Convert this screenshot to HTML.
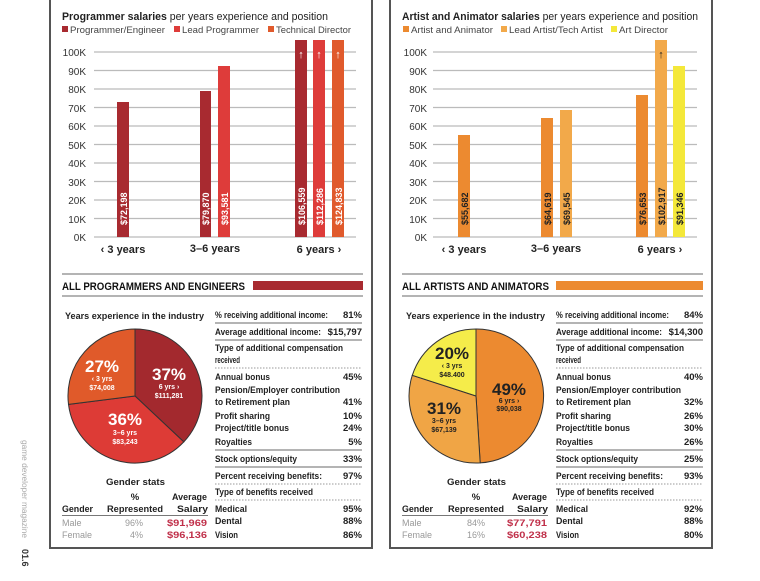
<!DOCTYPE html>
<html><head><meta charset="utf-8"><style>
html,body{margin:0;padding:0;background:#fff;}
svg{display:block;font-family:"Liberation Sans Narrow","Liberation Sans",sans-serif;}
.t{font-size:9.5px;fill:#222;font-weight:bold;}
.ax{font-size:10px;fill:#333;}
.lg{font-size:9.5px;fill:#444;}
.g{stroke:#bbb;stroke-width:1.3;}
.bl{font-size:9px;font-weight:bold;fill:#fff;}
.bk{font-size:9px;font-weight:bold;fill:#222;}
.sep{stroke:#888;stroke-width:1.3;}
.dot{stroke:#999;stroke-width:1;stroke-dasharray:1.5 1.5;}
</style></head><body>
<svg width="760" height="581" viewBox="0 0 760 581" xmlns="http://www.w3.org/2000/svg">
<path d="M50,0 V548 H372 V0" fill="none" stroke="#555" stroke-width="2"/>
<path d="M390,0 V548 H712 V0" fill="none" stroke="#555" stroke-width="2"/>
<text transform="translate(22,440) rotate(90)" font-size="8" fill="#aaa" textLength="98" lengthAdjust="spacingAndGlyphs">game developer magazine</text>
<text transform="translate(22,549) rotate(90)" font-size="9" font-weight="bold" fill="#333">01.6</text>

<!-- LEFT CHART -->
<text x="62" y="20" font-size="11" fill="#222" textLength="266" lengthAdjust="spacingAndGlyphs"><tspan font-weight="bold">Programmer salaries</tspan> per years experience and position</text>
<rect x="62" y="26" width="6" height="6" fill="#a82a30"/><text x="70" y="33" class="lg" textLength="95" lengthAdjust="spacingAndGlyphs">Programmer/Engineer</text>
<rect x="174" y="26" width="6" height="6" fill="#de3c3a"/><text x="182" y="33" class="lg" textLength="77" lengthAdjust="spacingAndGlyphs">Lead Programmer</text>
<rect x="268" y="26" width="6" height="6" fill="#e05a2c"/><text x="276" y="33" class="lg" textLength="75" lengthAdjust="spacingAndGlyphs">Technical Director</text>
<g class="ax" text-anchor="end">
<text x="86" y="56">100K</text><text x="86" y="75">90K</text><text x="86" y="93">80K</text><text x="86" y="112">70K</text><text x="86" y="130">60K</text><text x="86" y="149">50K</text><text x="86" y="167">40K</text><text x="86" y="186">30K</text><text x="86" y="204">20K</text><text x="86" y="223">10K</text><text x="86" y="241">0K</text>
</g>
<g class="g">
<line x1="94" x2="356" y1="52" y2="52"/><line x1="94" x2="356" y1="70.5" y2="70.5"/><line x1="94" x2="356" y1="89" y2="89"/><line x1="94" x2="356" y1="107.5" y2="107.5"/><line x1="94" x2="356" y1="126" y2="126"/><line x1="94" x2="356" y1="144.5" y2="144.5"/><line x1="94" x2="356" y1="163" y2="163"/><line x1="94" x2="356" y1="181.5" y2="181.5"/><line x1="94" x2="356" y1="200" y2="200"/><line x1="94" x2="356" y1="218.5" y2="218.5"/><line x1="94" x2="356" y1="237" y2="237"/>
</g>
<rect x="117" y="102" width="12" height="135" fill="#a82a30"/>
<rect x="200" y="91" width="11" height="146" fill="#a82a30"/>
<rect x="218" y="66" width="12" height="171" fill="#de3c3a"/>
<rect x="295" y="40" width="12" height="197" fill="#a82a30"/>
<rect x="313" y="40" width="12" height="197" fill="#de3c3a"/>
<rect x="332" y="40" width="12" height="197" fill="#e05a2c"/>
<g fill="#fff" font-size="11" font-weight="bold" text-anchor="middle"><text x="301" y="58">↑</text><text x="319" y="58">↑</text><text x="338" y="58">↑</text></g>
<g class="bl">
<text transform="translate(127,225) rotate(-90)">$72,198</text>
<text transform="translate(209,225) rotate(-90)">$79,870</text>
<text transform="translate(228,225) rotate(-90)">$93,581</text>
<text transform="translate(305,225) rotate(-90)">$106,559</text>
<text transform="translate(323,225) rotate(-90)">$112,286</text>
<text transform="translate(342,225) rotate(-90)">$124,833</text>
</g>
<g font-size="11" font-weight="bold" fill="#222" text-anchor="middle"><text x="123" y="253">‹ 3 years</text><text x="215" y="252">3–6 years</text><text x="319" y="253">6 years ›</text></g>
<line class="sep" x1="62" x2="363" y1="274" y2="274"/>
<line class="sep" x1="62" x2="363" y1="296" y2="296"/>
<text x="62" y="290" font-size="11" font-weight="bold" fill="#111" textLength="183" lengthAdjust="spacingAndGlyphs">ALL PROGRAMMERS AND ENGINEERS</text>
<rect x="253" y="281" width="110" height="9" fill="#a82a30"/>

<text x="65" y="319" class="t" textLength="139" lengthAdjust="spacingAndGlyphs">Years experience in the industry</text>
<path d="M135,396 L135,329 A67,67 0 0 1 183.8,441.9 Z" fill="#a3292e" stroke="#333" stroke-width="1"/>
<path d="M135,396 L183.8,441.9 A67,67 0 0 1 68.5,404.4 Z" fill="#dd3b36" stroke="#333" stroke-width="1"/>
<path d="M135,396 L68.5,404.4 A67,67 0 0 1 135,329 Z" fill="#e05a2a" stroke="#333" stroke-width="1"/>
<g fill="#fff" font-weight="bold" text-anchor="middle">
<text x="102" y="372" font-size="17">27%</text><text x="102" y="381" font-size="7">‹ 3 yrs</text><text x="102" y="390" font-size="7">$74,008</text>
<text x="169" y="380" font-size="17">37%</text><text x="169" y="389" font-size="7">6 yrs ›</text><text x="169" y="398" font-size="7">$111,281</text>
<text x="125" y="425" font-size="17">36%</text><text x="125" y="435" font-size="7">3–6 yrs</text><text x="125" y="444" font-size="7">$83,243</text>
</g>
<text x="106" y="485" class="t" textLength="59" lengthAdjust="spacingAndGlyphs">Gender stats</text>
<g class="t"><text x="135" y="500" text-anchor="middle">%</text><text x="172" y="500" textLength="35" lengthAdjust="spacingAndGlyphs">Average</text>
<text x="62" y="512" textLength="31" lengthAdjust="spacingAndGlyphs">Gender</text><text x="107" y="512" textLength="56" lengthAdjust="spacingAndGlyphs">Represented</text><text x="177" y="512" textLength="31" lengthAdjust="spacingAndGlyphs">Salary</text></g>
<line x1="62" x2="208" y1="515.5" y2="515.5" stroke="#777" stroke-width="1"/>
<g font-size="9" fill="#999"><text x="62" y="526">Male</text><text x="62" y="538">Female</text><text x="143" y="526" text-anchor="end">96%</text><text x="143" y="538" text-anchor="end">4%</text></g>
<g font-size="9.5" font-weight="bold" fill="#c0304a"><text x="167" y="526" textLength="40" lengthAdjust="spacingAndGlyphs">$91,969</text><text x="167" y="538" textLength="40" lengthAdjust="spacingAndGlyphs">$96,136</text></g>

<g class="t">
<text x="215" y="318" textLength="113" lengthAdjust="spacingAndGlyphs">% receiving additional income:</text><text x="362" y="318" text-anchor="end">81%</text>
<text x="215" y="335" textLength="106" lengthAdjust="spacingAndGlyphs">Average additional income:</text><text x="362" y="335" text-anchor="end">$15,797</text>
<text x="215" y="351" textLength="128" lengthAdjust="spacingAndGlyphs">Type of additional compensation</text><text x="215" y="363" textLength="25" lengthAdjust="spacingAndGlyphs">received</text>
<text x="215" y="380" textLength="55" lengthAdjust="spacingAndGlyphs">Annual bonus</text><text x="362" y="380" text-anchor="end">45%</text>
<text x="215" y="393" textLength="125" lengthAdjust="spacingAndGlyphs">Pension/Employer contribution</text>
<text x="215" y="405" textLength="75" lengthAdjust="spacingAndGlyphs">to Retirement plan</text><text x="362" y="405" text-anchor="end">41%</text>
<text x="215" y="419" textLength="55" lengthAdjust="spacingAndGlyphs">Profit sharing</text><text x="362" y="419" text-anchor="end">10%</text>
<text x="215" y="431" textLength="74" lengthAdjust="spacingAndGlyphs">Project/title bonus</text><text x="362" y="431" text-anchor="end">24%</text>
<text x="215" y="445" textLength="37" lengthAdjust="spacingAndGlyphs">Royalties</text><text x="362" y="445" text-anchor="end">5%</text>
<text x="215" y="462" textLength="82" lengthAdjust="spacingAndGlyphs">Stock options/equity</text><text x="362" y="462" text-anchor="end">33%</text>
<text x="215" y="479" textLength="107" lengthAdjust="spacingAndGlyphs">Percent receiving benefits:</text><text x="362" y="479" text-anchor="end">97%</text>
<text x="215" y="495" textLength="98" lengthAdjust="spacingAndGlyphs">Type of benefits received</text>
<text x="215" y="512" textLength="32" lengthAdjust="spacingAndGlyphs">Medical</text><text x="362" y="512" text-anchor="end">95%</text>
<text x="215" y="524" textLength="27" lengthAdjust="spacingAndGlyphs">Dental</text><text x="362" y="524" text-anchor="end">88%</text>
<text x="215" y="538" textLength="23" lengthAdjust="spacingAndGlyphs">Vision</text><text x="362" y="538" text-anchor="end">86%</text>
</g>
<g class="sep"><line x1="215" x2="362" y1="323" y2="323"/><line x1="215" x2="362" y1="340" y2="340"/><line x1="215" x2="362" y1="450" y2="450"/><line x1="215" x2="362" y1="467" y2="467"/></g>
<g class="dot"><line x1="215" x2="362" y1="368" y2="368"/><line x1="215" x2="362" y1="484" y2="484"/><line x1="215" x2="362" y1="500" y2="500"/></g>

<!-- RIGHT CHART -->
<text x="402" y="20" font-size="11" fill="#222" textLength="296" lengthAdjust="spacingAndGlyphs"><tspan font-weight="bold">Artist and Animator salaries</tspan> per years experience and position</text>
<rect x="403" y="26" width="6" height="6" fill="#ec8a30"/><text x="411" y="33" class="lg" textLength="82" lengthAdjust="spacingAndGlyphs">Artist and Animator</text>
<rect x="501" y="26" width="6" height="6" fill="#f2a94a"/><text x="509" y="33" class="lg" textLength="94" lengthAdjust="spacingAndGlyphs">Lead Artist/Tech Artist</text>
<rect x="611" y="26" width="6" height="6" fill="#f4e83a"/><text x="619" y="33" class="lg" textLength="49" lengthAdjust="spacingAndGlyphs">Art Director</text>
<g class="ax" text-anchor="end">
<text x="427" y="56">100K</text><text x="427" y="75">90K</text><text x="427" y="93">80K</text><text x="427" y="112">70K</text><text x="427" y="130">60K</text><text x="427" y="149">50K</text><text x="427" y="167">40K</text><text x="427" y="186">30K</text><text x="427" y="204">20K</text><text x="427" y="223">10K</text><text x="427" y="241">0K</text>
</g>
<g class="g">
<line x1="433" x2="697" y1="52" y2="52"/><line x1="433" x2="697" y1="70.5" y2="70.5"/><line x1="433" x2="697" y1="89" y2="89"/><line x1="433" x2="697" y1="107.5" y2="107.5"/><line x1="433" x2="697" y1="126" y2="126"/><line x1="433" x2="697" y1="144.5" y2="144.5"/><line x1="433" x2="697" y1="163" y2="163"/><line x1="433" x2="697" y1="181.5" y2="181.5"/><line x1="433" x2="697" y1="200" y2="200"/><line x1="433" x2="697" y1="218.5" y2="218.5"/><line x1="433" x2="697" y1="237" y2="237"/>
</g>
<rect x="458" y="135" width="12" height="102" fill="#ec8a30"/>
<rect x="541" y="118" width="12" height="119" fill="#ec8a30"/>
<rect x="560" y="110" width="12" height="127" fill="#f2a94a"/>
<rect x="636" y="95" width="12" height="142" fill="#ec8a30"/>
<rect x="655" y="40" width="12" height="197" fill="#f2a94a"/>
<rect x="673" y="66" width="12" height="171" fill="#f4e83a"/>
<text x="661" y="58" font-size="11" font-weight="bold" fill="#222" text-anchor="middle">↑</text>
<g class="bk">
<text transform="translate(468,225) rotate(-90)">$55,682</text>
<text transform="translate(551,225) rotate(-90)">$64,619</text>
<text transform="translate(570,225) rotate(-90)">$69,545</text>
<text transform="translate(646,225) rotate(-90)">$76,653</text>
<text transform="translate(665,225) rotate(-90)">$102,917</text>
<text transform="translate(683,225) rotate(-90)">$91,346</text>
</g>
<g font-size="11" font-weight="bold" fill="#222" text-anchor="middle"><text x="464" y="253">‹ 3 years</text><text x="556" y="252">3–6 years</text><text x="660" y="253">6 years ›</text></g>
<line class="sep" x1="402" x2="703" y1="274" y2="274"/>
<line class="sep" x1="402" x2="703" y1="296" y2="296"/>
<text x="402" y="290" font-size="11" font-weight="bold" fill="#111" textLength="147" lengthAdjust="spacingAndGlyphs">ALL ARTISTS AND ANIMATORS</text>
<rect x="556" y="281" width="147" height="9" fill="#ec8a30"/>

<text x="406" y="319" class="t" textLength="139" lengthAdjust="spacingAndGlyphs">Years experience in the industry</text>
<path d="M476,396 L476,329 A67,67 0 0 1 480.2,462.9 Z" fill="#ec8a30" stroke="#333" stroke-width="1"/>
<path d="M476,396 L480.2,462.9 A67,67 0 0 1 412.3,375.3 Z" fill="#f0a545" stroke="#333" stroke-width="1"/>
<path d="M476,396 L412.3,375.3 A67,67 0 0 1 476,329 Z" fill="#f5ec4a" stroke="#333" stroke-width="1"/>
<g fill="#222" font-weight="bold" text-anchor="middle">
<text x="452" y="359" font-size="17">20%</text><text x="452" y="368" font-size="7">‹ 3 yrs</text><text x="452" y="377" font-size="7">$48.400</text>
<text x="509" y="395" font-size="17">49%</text><text x="509" y="403" font-size="7">6 yrs ›</text><text x="509" y="411" font-size="7">$90,038</text>
<text x="444" y="414" font-size="17">31%</text><text x="444" y="423" font-size="7">3–6 yrs</text><text x="444" y="432" font-size="7">$67,139</text>
</g>
<text x="447" y="485" class="t" textLength="59" lengthAdjust="spacingAndGlyphs">Gender stats</text>
<g class="t"><text x="476" y="500" text-anchor="middle">%</text><text x="512" y="500" textLength="35" lengthAdjust="spacingAndGlyphs">Average</text>
<text x="402" y="512" textLength="31" lengthAdjust="spacingAndGlyphs">Gender</text><text x="448" y="512" textLength="56" lengthAdjust="spacingAndGlyphs">Represented</text><text x="517" y="512" textLength="31" lengthAdjust="spacingAndGlyphs">Salary</text></g>
<line x1="402" x2="548" y1="515.5" y2="515.5" stroke="#777" stroke-width="1"/>
<g font-size="9" fill="#999"><text x="402" y="526">Male</text><text x="402" y="538">Female</text><text x="485" y="526" text-anchor="end">84%</text><text x="485" y="538" text-anchor="end">16%</text></g>
<g font-size="9.5" font-weight="bold" fill="#c0304a"><text x="507" y="526" textLength="40" lengthAdjust="spacingAndGlyphs">$77,791</text><text x="507" y="538" textLength="40" lengthAdjust="spacingAndGlyphs">$60,238</text></g>

<g class="t">
<text x="556" y="318" textLength="113" lengthAdjust="spacingAndGlyphs">% receiving additional income:</text><text x="703" y="318" text-anchor="end">84%</text>
<text x="556" y="335" textLength="106" lengthAdjust="spacingAndGlyphs">Average additional income:</text><text x="703" y="335" text-anchor="end">$14,300</text>
<text x="556" y="351" textLength="128" lengthAdjust="spacingAndGlyphs">Type of additional compensation</text><text x="556" y="363" textLength="25" lengthAdjust="spacingAndGlyphs">received</text>
<text x="556" y="380" textLength="55" lengthAdjust="spacingAndGlyphs">Annual bonus</text><text x="703" y="380" text-anchor="end">40%</text>
<text x="556" y="393" textLength="125" lengthAdjust="spacingAndGlyphs">Pension/Employer contribution</text>
<text x="556" y="405" textLength="75" lengthAdjust="spacingAndGlyphs">to Retirement plan</text><text x="703" y="405" text-anchor="end">32%</text>
<text x="556" y="419" textLength="55" lengthAdjust="spacingAndGlyphs">Profit sharing</text><text x="703" y="419" text-anchor="end">26%</text>
<text x="556" y="431" textLength="74" lengthAdjust="spacingAndGlyphs">Project/title bonus</text><text x="703" y="431" text-anchor="end">30%</text>
<text x="556" y="445" textLength="37" lengthAdjust="spacingAndGlyphs">Royalties</text><text x="703" y="445" text-anchor="end">26%</text>
<text x="556" y="462" textLength="82" lengthAdjust="spacingAndGlyphs">Stock options/equity</text><text x="703" y="462" text-anchor="end">25%</text>
<text x="556" y="479" textLength="107" lengthAdjust="spacingAndGlyphs">Percent receiving benefits:</text><text x="703" y="479" text-anchor="end">93%</text>
<text x="556" y="495" textLength="98" lengthAdjust="spacingAndGlyphs">Type of benefits received</text>
<text x="556" y="512" textLength="32" lengthAdjust="spacingAndGlyphs">Medical</text><text x="703" y="512" text-anchor="end">92%</text>
<text x="556" y="524" textLength="27" lengthAdjust="spacingAndGlyphs">Dental</text><text x="703" y="524" text-anchor="end">88%</text>
<text x="556" y="538" textLength="23" lengthAdjust="spacingAndGlyphs">Vision</text><text x="703" y="538" text-anchor="end">80%</text>
</g>
<g class="sep"><line x1="556" x2="703" y1="323" y2="323"/><line x1="556" x2="703" y1="340" y2="340"/><line x1="556" x2="703" y1="450" y2="450"/><line x1="556" x2="703" y1="467" y2="467"/></g>
<g class="dot"><line x1="556" x2="703" y1="368" y2="368"/><line x1="556" x2="703" y1="484" y2="484"/><line x1="556" x2="703" y1="500" y2="500"/></g>
</svg>
</body></html>
